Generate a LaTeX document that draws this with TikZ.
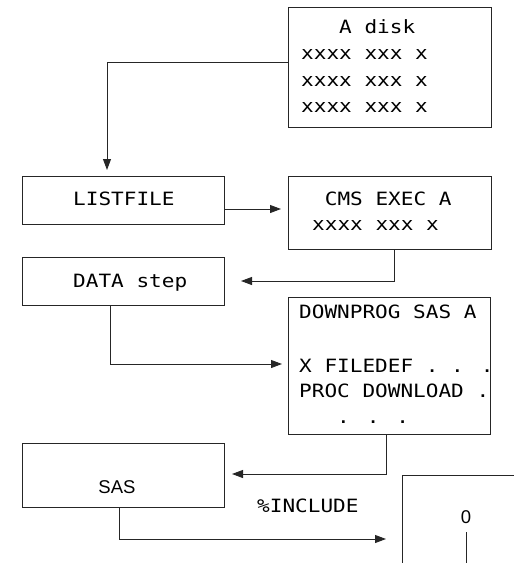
\documentclass[tikz,border=0pt]{standalone}
\usepackage{fontspec}
\newfontfamily\monof[FakeStretch=1.15]{DejaVu Sans Mono}
\newfontfamily\helv{Liberation Sans}
\usetikzlibrary{arrows.meta}
\tikzset{
  box/.style={draw=black!85, line width=0.9pt, inner sep=0pt, outer sep=0pt},
  mt/.style={font=\monof\fontsize{18.3}{22}\selectfont, inner sep=0pt, anchor=base west},
  ht/.style={font=\helv\fontsize{18.5}{22}\selectfont, inner sep=0pt, anchor=base},
  arr/.style={draw=black!85, line width=0.9pt, -{Triangle[length=11pt,width=8pt]}},
  ln/.style={draw=black!85, line width=0.9pt}
}
\begin{document}
\begin{tikzpicture}[x=1pt,y=-1pt]
\useasboundingbox (0,0) rectangle (514,563);
% boxes
\node[box, minimum width=203pt, minimum height=120pt] (disk) at (389.5,67) {};
\node[box, minimum width=202pt, minimum height=48pt] (list) at (123,200) {};
\node[box, minimum width=203pt, minimum height=73pt] (cms) at (389.5,212.5) {};
\node[box, minimum width=202pt, minimum height=48pt] (data) at (123,281) {};
\node[box, minimum width=202pt, minimum height=137pt] (down) at (389,365.5) {};
\node[box, minimum width=202pt, minimum height=64pt] (sas) at (123,475) {};
\draw[ln] (514,475) -- (402,475) -- (402,563);
\coordinate (inc) at (402,539);
% texts
\node[mt] (d1) at (301,33) {\phantom{xxx}A disk};
\node[mt] (d2) at (301,59) {xxxx xxx x};
\node[mt] (d3) at (301,86) {xxxx xxx x};
\node[mt] (d4) at (301,112) {xxxx xxx x};
\node[mt] (lt) at (73,205) {LISTFILE};
\node[mt] (c1) at (312,205) {\phantom{x}CMS EXEC A};
\node[mt] (c2) at (312,230) {xxxx xxx x};
\node[mt] (dt) at (73,287) {DATA step};
\node[mt] (p1) at (299,318) {DOWNPROG SAS A};
\node[mt] (p2) at (299,372) {X FILEDEF . . .};
\node[mt] (p3) at (299,397) {PROC DOWNLOAD .};
\node[mt] (p4) at (299,423) {\phantom{xxx}. . .};
\node[ht] (st) at (117,493) {SAS};
\node[mt] (incl) at (257,512) {\%INCLUDE};
\node[ht] (zero) at (466,523) {0};
\coordinate (zb) at (466,563);
\draw[ln] ([yshift=-9pt]zero.south) -- (zb);
% connectors
\draw[arr, shorten >=6pt] ([yshift=5pt]disk.west) -| ([xshift=-16pt]list.north);
\draw[arr, shorten >=7pt] ([yshift=-9pt]list.east) -- ([yshift=-9pt]list.east -| cms.west);
\draw[arr, shorten >=17pt] ([xshift=4.5pt]cms.south) |- (data.east);
\draw[arr, shorten >=6pt] ([xshift=-13pt]data.south) |- ([yshift=1.5pt]down.west);
\draw[arr, shorten >=8pt] ([xshift=-3pt]down.south) |- ([yshift=1pt]sas.east);
\draw[arr, shorten >=16pt] ([xshift=-4pt]sas.south) |- (inc);
\end{tikzpicture}
\end{document}
